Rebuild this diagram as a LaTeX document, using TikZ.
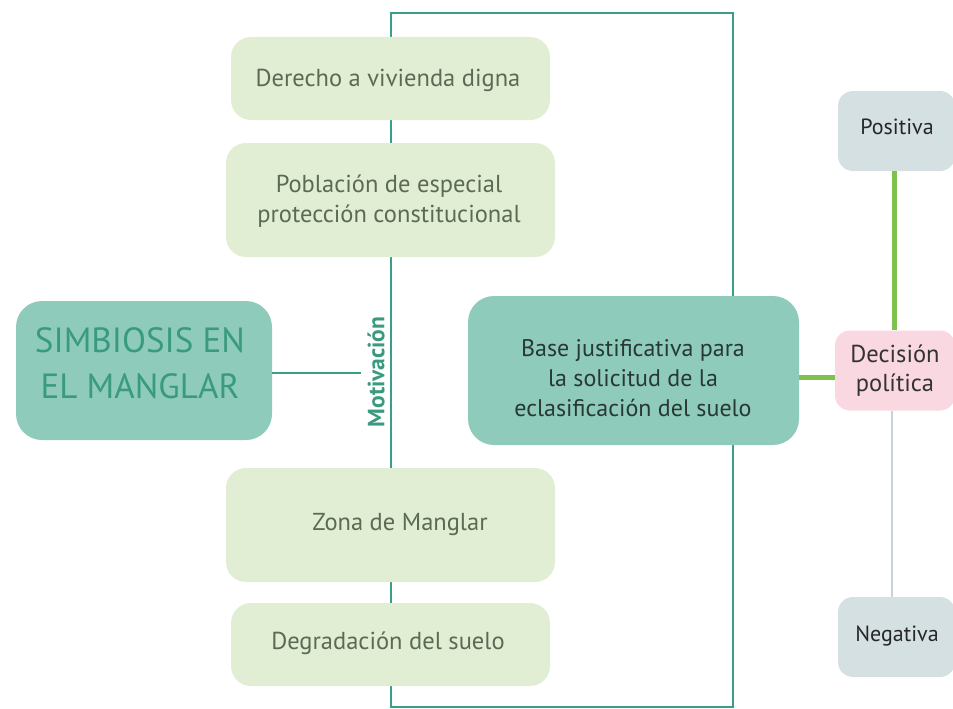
\documentclass[tikz,border=0pt]{standalone}
\usepackage{fontspec}
\setmainfont{PT Sans}
\usetikzlibrary{backgrounds}
\definecolor{tealline}{HTML}{3A9F86}
\definecolor{tealfill}{HTML}{8ECBBB}
\definecolor{tealtext}{HTML}{3A9A80}
\definecolor{lgfill}{HTML}{E2EED3}
\definecolor{lgtext}{HTML}{5A6A55}
\definecolor{pinkfill}{HTML}{F9D8E2}
\definecolor{grayfill}{HTML}{D5E0E3}
\definecolor{greenline}{HTML}{7DC24E}
\definecolor{grayline}{HTML}{C6D3DA}
\definecolor{darktext}{HTML}{283833}
\tikzset{
  lgbox/.style={rectangle, rounded corners=20pt, fill=lgfill, text=lgtext, align=center, inner sep=0pt, font=\fontsize{24.5}{30}\selectfont},
  tealbox/.style={rectangle, rounded corners=26pt, fill=tealfill, align=center, inner sep=0pt},
  sidebox/.style={rectangle, rounded corners=15pt, align=center, inner sep=0pt, text=black!85},
  plain/.style={align=center, inner sep=0pt},
  tline/.style={draw=tealline, line width=2pt},
}
\begin{document}
\begin{tikzpicture}[x=1pt,y=-1pt]
\useasboundingbox (0,0) rectangle (953,709);
\node[lgbox, minimum width=319pt, minimum height=83pt] (der) at (390.5,78.5) {};
\node[plain, text=lgtext, font=\fontsize{24.5}{30}\selectfont] (dert) at (388,80) {Derecho a vivienda digna};
\node[lgbox, minimum width=329pt, minimum height=114pt] (pob) at (390.5,200) {};
\node[plain, text=lgtext, font=\fontsize{24.5}{30}\selectfont] (pobt) at (389,201) {Población de especial\\protección constitucional};
\node[lgbox, minimum width=329pt, minimum height=114pt] (zon) at (390.5,525) {};
\node[plain, text=lgtext, font=\fontsize{24.5}{30}\selectfont] (zont) at (400,525) {Zona de Manglar};
\node[lgbox, minimum width=319pt, minimum height=83pt] (deg) at (390.5,644.5) {};
\node[plain, text=lgtext, font=\fontsize{24.5}{30}\selectfont] (degt) at (388,643) {Degradación del suelo};
\node[tealbox, minimum width=256pt, minimum height=139pt] (sim) at (144,370.5) {};
\node[plain, text=tealtext, font=\fontsize{35}{46}\selectfont] (simt) at (140,363) {SIMBIOSIS EN\\EL MANGLAR};
\node[tealbox, minimum width=331pt, minimum height=149pt] (base) at (633.5,370.5) {};
\node[plain, text=darktext, font=\fontsize{24}{30}\selectfont] (baset) at (633,378) {Base justificativa para\\la solicitud de la\\eclasificación del suelo};
\node[sidebox, fill=pinkfill, minimum width=120pt, minimum height=80pt] (dec) at (895,370.5) {};
\node[plain, text=black!80, font=\fontsize{24.5}{29}\selectfont] (dect) at (895,370.5) {Decisión\\política};
\node[sidebox, fill=grayfill, minimum width=117pt, minimum height=80pt] (pos) at (896.5,131) {};
\node[plain, text=black!85, font=\fontsize{22}{26}\selectfont] (post) at (897,127) {Positiva};
\node[sidebox, fill=grayfill, minimum width=117pt, minimum height=80pt] (neg) at (896.5,637) {};
\node[plain, text=black!85, font=\fontsize{22}{26}\selectfont] (negt) at (897,636) {Negativa};
\node[rotate=90, text=tealtext, font=\bfseries\fontsize{23.5}{26}\selectfont, inner sep=0pt] (mot) at (376,372) {Motivación};
\coordinate (mend) at (361,373);
\coordinate (tl) at (391,13);
\coordinate (tr) at (733,13);
\coordinate (br) at (733,707);
\coordinate (bl) at (391,707);
\begin{scope}[on background layer]
  \draw[tline] (tl) -- (tr) -- (br) -- (bl) -- cycle;
\end{scope}
\draw[tline] (sim.east |- mend) -- (mend);
\draw[draw=greenline, line width=5pt] (base.east |- 0,377) -- (dec.west |- 0,377);
\draw[draw=greenline, line width=5pt] (pos.south -| 894,0) -- (dec.north -| 894,0);
\draw[draw=grayline, line width=2pt] (dec.south -| 892,0) -- (neg.north -| 892,0);
\end{tikzpicture}
\end{document}
